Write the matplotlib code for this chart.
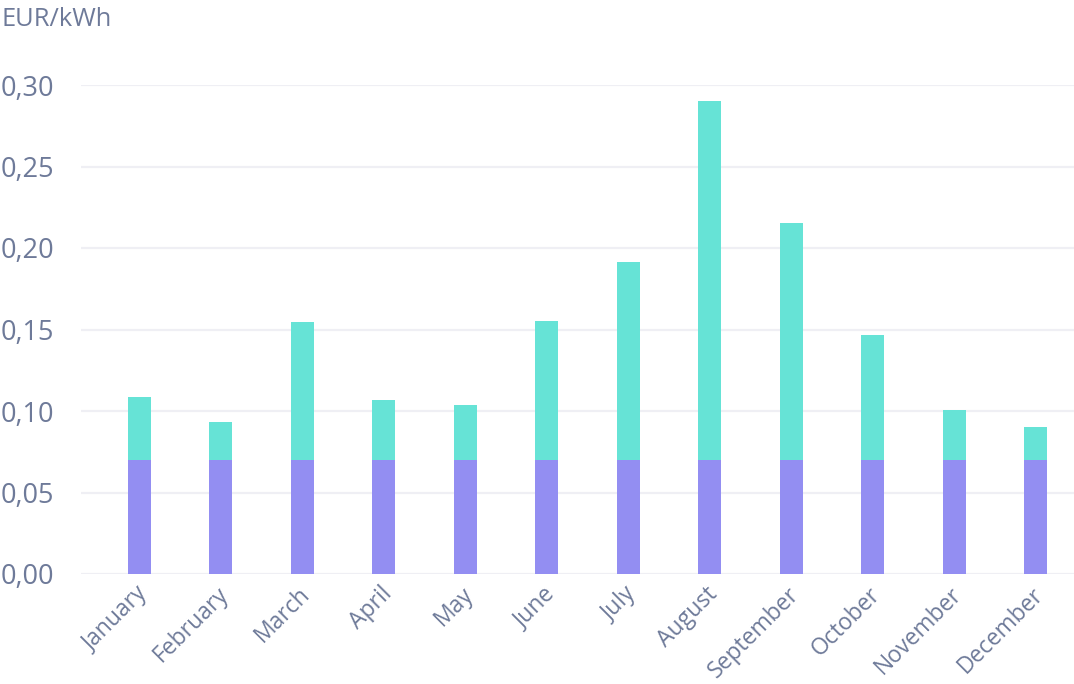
import matplotlib.pyplot as plt
import matplotlib.transforms as mtransforms
from matplotlib.ticker import FuncFormatter

months = ["January", "February", "March", "April", "May", "June",
          "July", "August", "September", "October", "November", "December"]
base_price = [0.07] * 12
total_price = [0.1086, 0.0933, 0.1546, 0.1067, 0.1037, 0.1552,
               0.1914, 0.2902, 0.2153, 0.1466, 0.1006, 0.0902]

TEXT_COLOR = "#6e7a99"
BASE_COLOR = "#938ef2"
TOP_COLOR = "#66e3d6"


def main():
    plt.rcParams["font.family"] = ["Open Sans", "DejaVu Sans"]

    fig = plt.figure(figsize=(10.74, 6.84), dpi=100)
    ax = fig.add_axes([81 / 1074, 110 / 684, 993 / 1074, 489 / 684])

    x = list(range(len(months)))
    extra = [t - b for t, b in zip(total_price, base_price)]
    ax.bar(x, base_price, width=0.282, color=BASE_COLOR, zorder=3)
    ax.bar(x, extra, bottom=base_price, width=0.282, color=TOP_COLOR, zorder=3)

    ax.set_xlim(-0.718, 11.47)
    ax.set_ylim(0, 0.30)
    ax.set_yticks([0, 0.05, 0.10, 0.15, 0.20, 0.25, 0.30])
    ax.yaxis.set_major_formatter(FuncFormatter(lambda v, _: f"{v:.2f}".replace(".", ",")))
    ax.grid(axis="y", color="#efeff4", linewidth=1.6, zorder=0)
    # pad is in points: 26 px ~ 19 pt at 100 dpi
    ax.tick_params(axis="y", length=0, pad=19, labelsize=19.5, labelcolor=TEXT_COLOR)
    ax.tick_params(axis="x", length=0, pad=6, labelsize=16.5, labelcolor=TEXT_COLOR)
    ax.set_xticks(x)
    ax.set_xticklabels(months, rotation=45, ha="right", va="top",
                       rotation_mode="anchor")
    shift = mtransforms.ScaledTranslation(-4 / 100, 0, fig.dpi_scale_trans)
    for label in ax.get_xticklabels():
        label.set_transform(label.get_transform() + shift)
    for side in ax.spines.values():
        side.set_visible(False)

    fig.text(2 / 1074, 1 - 20 / 684, "EUR/kWh", fontsize=18.4, color=TEXT_COLOR,
             va="center", ha="left")

    fig.savefig("out.png", dpi=100)


if __name__ == "__main__":
    main()
